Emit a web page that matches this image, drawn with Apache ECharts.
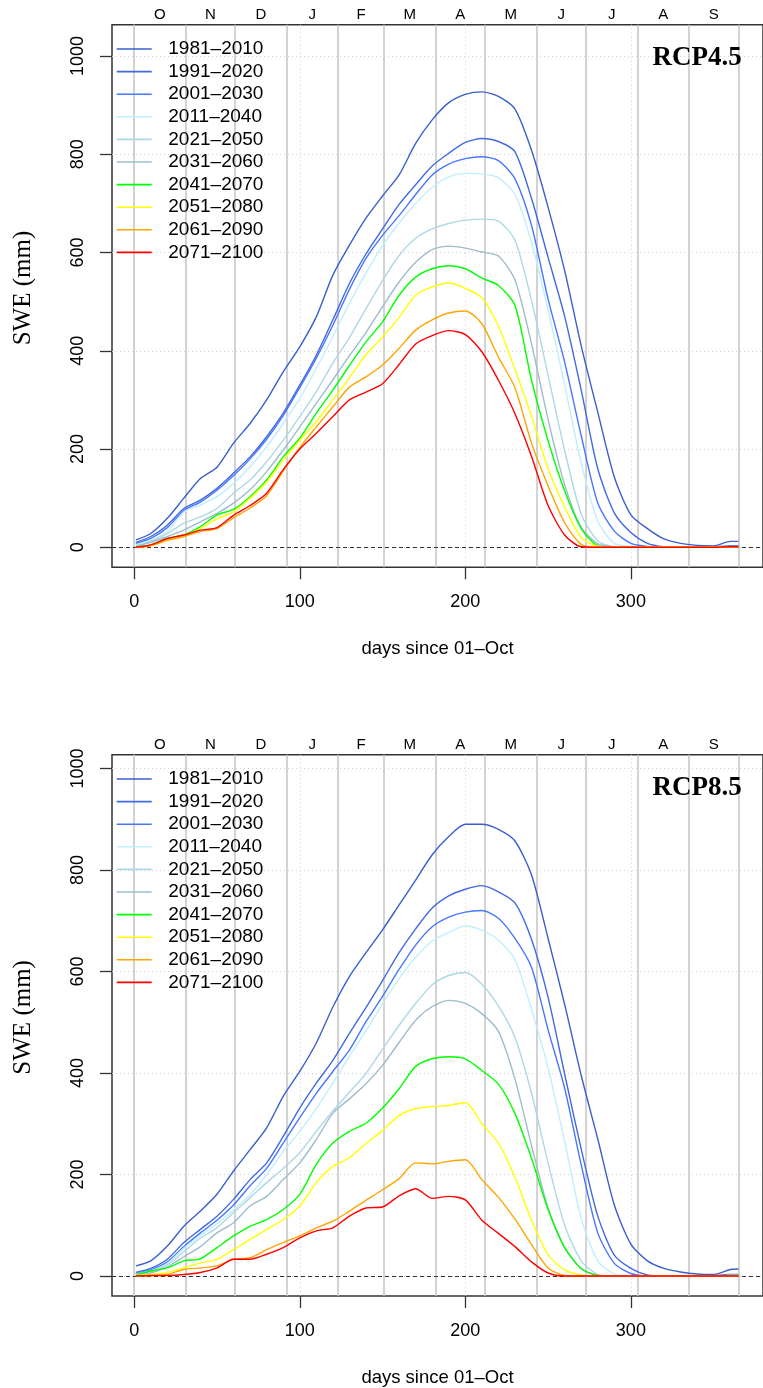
<!DOCTYPE html>
<html><head><meta charset="utf-8">
<script src="https://cdn.jsdelivr.net/npm/echarts@6/dist/echarts.min.js"></script>
<style>html,body{margin:0;padding:0;background:#fff}#c{width:763px;height:1388px}</style>
</head><body><div id="c"></div>
<script>
// ---- data ----
const days = [1,10,20,30,40,50,60,70,80,90,100,110,120,130,140,150,160,170,180,190,200,210,220,230,240,250,260,270,280,290,300,310,320,330,340,350,360,365];
const periods = ['1981–2010','1991–2020','2001–2030','2011–2040','2021–2050','2031–2060','2041–2070','2051–2080','2061–2090','2071–2100'];
const monthLabels = ['O','N','D','J','F','M','A','M','J','J','A','S'];
const monthMid = [15.5,46,76.5,107.5,137,166.5,197,227.5,258,288.5,319.5,350];
const monthStart = [0,31,61,92,123,151,182,212,243,273,304,335,365];
const xTicks = [0,100,200,300];
const yTicks = [0,200,400,600,800,1000];

// RCP4.5 SWE (mm)
const rcp45_1981_2010 = [15,28,59,100,140,163,212,252,300,357,408,469,554,615,670,715,758,822,870,905,922,927,918,892,808,692,563,410,275,143,66,38,17,8,4,3,12,12];
const rcp45_1991_2020 = [10,22,45,79,96,120,151,184,225,273,330,391,463,537,597,648,698,738,776,802,824,832,826,805,710,590,470,320,160,70,30,8,1,0,0,1,3,3];
const rcp45_2001_2030 = [8,18,40,75,92,116,146,180,220,268,325,385,452,525,588,635,675,718,758,780,791,795,787,750,655,505,377,227,90,33,8,2,0,0,0,0,2,2];
const rcp45_2011_2040 = [5,14,32,72,86,103,130,164,205,252,303,364,429,497,558,614,660,700,733,754,761,760,752,718,620,483,330,172,53,8,2,0,0,0,0,0,1,1];
const rcp45_2021_2050 = [3,12,28,49,62,79,110,137,174,218,266,317,375,427,486,543,594,629,648,659,666,668,664,625,502,350,197,68,13,1,0,0,0,0,0,0,1,1];
const rcp45_2031_2060 = [2,10,22,35,52,69,90,117,154,198,245,293,341,390,437,490,540,580,606,613,609,601,593,544,414,260,127,41,7,1,0,0,0,0,0,0,1,1];
const rcp45_2041_2070 = [1,5,18,25,42,66,77,103,137,184,222,273,320,370,418,459,513,550,567,573,567,548,533,492,340,217,115,38,3,0,0,0,0,0,0,0,1,1];
const rcp45_2051_2080 = [0,4,15,23,38,58,72,100,133,177,218,256,300,345,392,428,468,513,530,538,527,508,450,362,267,160,82,20,2,0,0,0,0,0,0,0,1,1];
const rcp45_2061_2090 = [0,3,14,22,32,38,60,80,105,155,203,245,286,326,347,371,405,442,463,477,481,455,387,325,212,125,50,6,0,0,0,0,0,0,0,0,1,1];
const rcp45_2071_2100 = [0,5,18,25,35,40,65,85,110,158,200,232,266,300,316,333,372,414,431,441,433,398,340,272,185,85,25,1,0,0,0,0,0,0,0,0,1,1];

// RCP8.5 SWE (mm)
const rcp85_1981_2010 = [20,30,59,98,128,161,207,249,292,354,403,459,530,590,637,682,731,780,830,866,890,890,880,857,790,665,535,395,270,140,63,30,15,8,4,3,13,14];
const rcp85_1991_2020 = [7,15,33,66,92,118,151,190,223,275,331,380,425,478,529,582,637,684,725,749,762,769,757,735,663,549,398,250,118,41,15,2,0,0,0,1,3,3];
const rcp85_2001_2030 = [5,12,28,58,85,110,140,178,212,262,312,360,403,445,501,551,604,652,688,707,717,720,705,665,608,485,370,219,85,25,5,0,0,0,0,0,2,2];
const rcp85_2011_2040 = [4,10,25,55,80,103,130,160,200,245,285,330,380,433,483,536,586,628,660,677,690,681,662,623,525,410,265,114,30,4,0,0,0,0,0,0,1,1];
const rcp85_2021_2050 = [3,9,22,48,75,95,125,154,184,212,243,285,325,362,399,447,494,537,574,592,598,575,532,470,360,223,100,30,3,0,0,0,0,0,0,0,1,1];
const rcp85_2031_2060 = [2,6,18,38,58,85,105,138,157,190,223,269,321,349,379,415,460,504,531,543,537,517,482,388,257,134,56,14,2,0,0,0,0,0,0,0,1,1];
const rcp85_2041_2070 = [2,10,16,30,34,56,79,98,111,131,161,220,262,285,301,331,369,413,428,432,428,405,378,320,232,131,56,15,1,0,0,0,0,0,0,0,1,1];
const rcp85_2051_2080 = [1,3,7,16,26,33,52,72,92,111,138,184,216,233,261,287,316,330,334,336,342,300,262,195,110,42,12,2,0,0,0,0,0,0,0,0,0,0];
const rcp85_2061_2090 = [0,1,3,13,16,20,33,36,52,66,79,95,108,128,149,170,192,223,221,226,229,190,155,112,62,16,1,0,0,0,0,0,0,0,0,0,0,0];
const rcp85_2071_2100 = [0,1,1,3,7,16,33,33,43,56,75,89,95,118,134,136,158,172,153,157,150,110,84,58,28,6,0,0,0,0,0,0,0,0,0,0,0,0];

// ---- styling ----
const palette = ['#3a5fcd','#4169e1','#4876ff','#bfefff','#add8e6','#9fbccd','#00ff00','#ffff00','#ffa500','#ff0000'];
const SANS = 'Liberation Sans, Arial, Helvetica, sans-serif';
const SERIF = 'Liberation Serif, Times New Roman, serif';

const panels = [
  {title:'RCP4.5', top:24.7, height:542.6, ymin:-40.7, ymax:1063.7, legendTop:37.7, titleY:58,
   data:[rcp45_1981_2010,rcp45_1991_2020,rcp45_2001_2030,rcp45_2011_2040,rcp45_2021_2050,rcp45_2031_2060,rcp45_2041_2070,rcp45_2051_2080,rcp45_2061_2090,rcp45_2071_2100]},
  {title:'RCP8.5', top:754.7, height:542, ymin:-39.3, ymax:1027, legendTop:767.7, titleY:788.3,
   data:[rcp85_1981_2010,rcp85_1991_2020,rcp85_2001_2030,rcp85_2011_2040,rcp85_2021_2050,rcp85_2031_2060,rcp85_2041_2070,rcp85_2051_2080,rcp85_2061_2090,rcp85_2071_2100]}
];

const XMIN = -13.4, XMAX = 379.8;
const option = {animation:false, backgroundColor:'#fff', grid:[], xAxis:[], yAxis:[], series:[], legend:[], graphic:[]};

panels.forEach((p, pi) => {
  option.grid.push({left:112, top:p.top, width:656, height:p.height, show:true,
    borderColor:'#333', borderWidth:1.5, backgroundColor:'transparent'});
  // bottom numeric axis
  option.xAxis.push({type:'value', gridIndex:pi, position:'bottom', min:XMIN, max:XMAX,
    axisLine:{show:false, onZero:false},
    axisTick:{show:true, customValues:xTicks, length:12, lineStyle:{color:'#333', width:1.3}},
    axisLabel:{customValues:xTicks, margin:26, color:'#000', fontSize:18, fontFamily:SANS, formatter:v => String(v)},
    splitLine:{show:true, lineStyle:{color:'#d3d3d3', type:[1,3], width:1}},
    name:'days since 01–Oct', nameLocation:'middle', nameGap:72,
    nameTextStyle:{color:'#000', fontSize:18.5, fontFamily:SANS}});
  // top month axis with month boundary lines
  option.xAxis.push({type:'value', gridIndex:pi, position:'top', min:XMIN, max:XMAX,
    axisLine:{show:false, onZero:false},
    axisTick:{show:false, customValues:monthStart},
    axisLabel:{customValues:monthMid, margin:2.5, color:'#000', fontSize:15, fontFamily:SANS,
      formatter:v => monthLabels[monthMid.indexOf(v)]},
    splitLine:{show:true, lineStyle:{color:'#c4c4c4', width:1.5}}});
  option.yAxis.push({type:'value', gridIndex:pi, min:p.ymin, max:p.ymax,
    axisLine:{show:false, onZero:false},
    axisTick:{show:true, customValues:yTicks, length:12, lineStyle:{color:'#333', width:1.3}},
    axisLabel:{customValues:yTicks, rotate:90, margin:25, color:'#000', fontSize:18, fontFamily:SANS, formatter:v => String(v)},
    splitLine:{show:true, lineStyle:{color:'#d3d3d3', type:[1,3], width:1}},
    name:'SWE (mm)', nameLocation:'middle', nameGap:76, nameRotate:90,
    nameTextStyle:{color:'#000', fontSize:25, fontFamily:SERIF, padding:[0,0,0,16]}});

  p.data.forEach((arr, si) => {
    const s = {type:'line', name:periods[si], xAxisIndex:pi*2, yAxisIndex:pi,
      data:days.map((d,i)=>[d, arr[i]]), showSymbol:false, symbol:'none', smooth:0.25,
      lineStyle:{color:palette[si], width:1.4}, itemStyle:{color:palette[si]}, z:3, silent:true};
    if (si === 0) {
      s.markLine = {silent:true, symbol:'none', label:{show:false},
        lineStyle:{color:'#333', type:[4,3], width:1}, data:[{yAxis:0}], z:2};
    }
    option.series.push(s);
  });

  option.legend.push({orient:'vertical', left:116.7, top:p.legendTop, padding:0, itemGap:0,
    icon:'rect', itemWidth:35, itemHeight:1.6, data:periods, selectedMode:false,
    textStyle:{color:'#000', fontSize:19, fontFamily:SANS, lineHeight:22.6, padding:[0,0,0,11.6]}});

  option.graphic.push({type:'text', x:741.7, y:p.titleY, z:100,
    style:{text:p.title, fill:'#000', font:'bold 27px ' + SERIF, textAlign:'right', textVerticalAlign:'middle'}});
});

const chart = echarts.init(document.getElementById('c'), null, {renderer:'canvas'});
chart.setOption(option);
</script></body></html>
